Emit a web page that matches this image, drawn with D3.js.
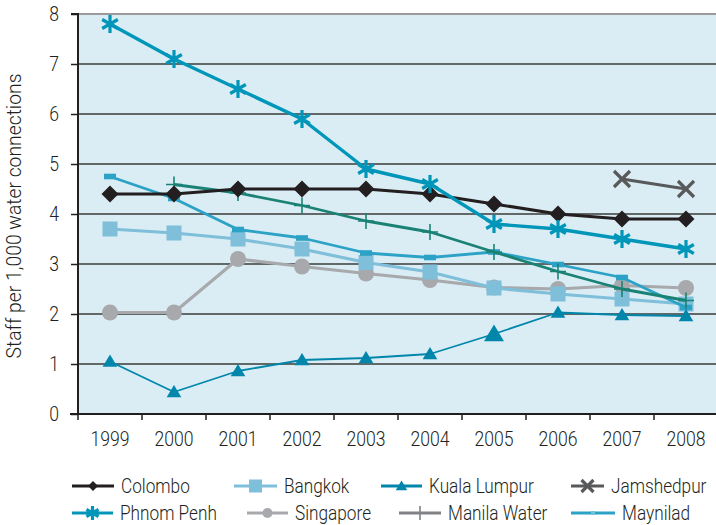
<!DOCTYPE html>
<html><head><meta charset="utf-8">
<script src="https://cdn.jsdelivr.net/npm/d3@7"></script>
<style>
body{margin:0;background:#fff;}
svg{display:block;}
text{font-family:Roboto,"Liberation Sans",sans-serif;font-weight:300;fill:#231f20;}
</style></head>
<body>
<svg id="c" width="716" height="525"></svg>
<script>
const years = ["1999","2000","2001","2002","2003","2004","2005","2006","2007","2008"];
const yTicks = [0,1,2,3,4,5,6,7,8];
const colombo     = [4.4,4.4,4.5,4.5,4.5,4.4,4.2,4.0,3.9,3.9];
const phnomPenh   = [7.8,7.1,6.5,5.9,4.9,4.6,3.8,3.7,3.5,3.3];
const bangkok     = [3.7,3.62,3.5,3.3,3.03,2.84,2.52,2.4,2.3,2.2];
const singapore   = [2.03,2.03,3.1,2.95,2.81,2.68,2.53,2.5,2.57,2.52];
const kualaLumpur = [1.05,0.44,0.86,1.08,1.12,1.2,1.6,2.03,1.98,1.96];
const jamshedpur  = [null,null,null,null,null,null,null,null,4.7,4.5];
const manilaWater = [null,4.59,4.42,4.17,3.86,3.64,3.24,2.85,2.5,2.27];
const maynilad    = [4.75,4.31,3.69,3.52,3.22,3.13,3.24,2.99,2.73,2.13];

const seriesNames = ["Colombo","Bangkok","Kuala Lumpur","Jamshedpur","Phnom Penh","Singapore","Manila Water","Maynilad"];

const svg = d3.select("#c");
const L=78, R=718, T=14, B=414;
const x = d3.scaleBand().domain(years).range([L,R]);
const y = d3.scaleLinear().domain([0,8]).range([B,T]);
const cx = d => x(d)+x.bandwidth()/2;

function condense(sel, sx){
  sel.each(function(){
    const t = d3.select(this);
    const tx = +t.attr("x")||0, ty = +t.attr("y")||0;
    const prev = t.attr("transform")||"";
    t.attr("x",0).attr("y",0).attr("transform",`${prev} translate(${tx},${ty}) scale(${sx},1)`);
  });
}

svg.append("rect").attr("x",L).attr("y",T).attr("width",R-L).attr("height",B-T).attr("fill","#daedf4");
svg.append("g").selectAll("line").data(yTicks.filter(v=>v>0)).join("line")
  .attr("x1",L).attr("x2",R).attr("y1",d=>y(d)).attr("y2",d=>y(d))
  .attr("stroke",d=>d===8?"#9a9a9a":"#3a3a3a").attr("stroke-width",d=>d===8?2:1.5);

const yAxis = d3.axisLeft(y).tickValues(yTicks).tickSize(7).tickPadding(12).tickFormat(d3.format("d"));
const gy = svg.append("g").attr("transform",`translate(${L},0)`).call(yAxis);
gy.select(".domain").attr("stroke","#231f20").attr("stroke-width",2).attr("d",`M-7,${T}H0V${B}`);
gy.selectAll(".tick line").attr("stroke","#231f20").attr("stroke-width",1.5);
gy.selectAll(".tick text").attr("font-size",20).attr("fill","#231f20").attr("font-family",null);
condense(gy.selectAll(".tick text"),0.88);

const xAxis = d3.axisBottom(x).tickSize(0).tickPadding(18);
const gx = svg.append("g").attr("transform",`translate(0,${B})`).call(xAxis);
gx.select(".domain").remove();
gx.selectAll(".tick text").attr("font-size",20).attr("fill","#231f20");
condense(gx.selectAll(".tick text"),0.88);
const bounds = years.map(d=>x(d)).concat([R]);
svg.append("g").selectAll("line").data(bounds).join("line")
  .attr("x1",d=>d).attr("x2",d=>d).attr("y1",B).attr("y2",B+6).attr("stroke","#231f20").attr("stroke-width",1.5);
svg.append("line").attr("x1",L-8).attr("x2",R).attr("y1",B).attr("y2",B).attr("stroke","#231f20").attr("stroke-width",2);

const yt = svg.append("text").attr("text-anchor","middle").attr("font-size",20).text("Staff per 1,000 water connections");
const ytw = yt.node().getComputedTextLength();
yt.attr("transform",`translate(21,${(T+B)/2+2}) rotate(-90) scale(${285/ytw},1)`);

function diamond(g,c,s){g.append("path").attr("d",`M0,${-s}L${s},0L0,${s}L${-s},0Z`).attr("fill",c);}
function square(g,c,s){g.append("rect").attr("x",-s).attr("y",-s).attr("width",2*s).attr("height",2*s).attr("fill",c);}
function triangle(g,c,s){g.append("path").attr("d",`M0,${-s}L${s*1.05},${s*0.75}L${-s*1.05},${s*0.75}Z`).attr("fill",c);}
function cross(g,c,s){g.append("path").attr("d",`M${-s},${-s}L${s},${s}M${s},${-s}L${-s},${s}`).attr("stroke",c).attr("stroke-width",3.2).attr("fill","none");}
function star(g,c,s){g.append("path").attr("d",`M0,${-s}V${s}M${-s*0.87},${-s*0.5}L${s*0.87},${s*0.5}M${s*0.87},${-s*0.5}L${-s*0.87},${s*0.5}`).attr("stroke",c).attr("stroke-width",3.2).attr("fill","none");}
function circle(g,c,s){g.append("circle").attr("r",s).attr("fill",c);}
function plus(g,c,s){g.append("path").attr("d",`M${-s},0H${s}M0,${-s}V${s}`).attr("stroke",c).attr("stroke-width",1.6).attr("fill","none");}
function dash(g,c,s){g.append("rect").attr("x",-s).attr("y",-2.8).attr("width",2*s).attr("height",5.6).attr("fill",c);}

const series = [
  {name:"Singapore",vals:singapore,color:"#a7a9ac",w:3.2,mk:circle,ms:8,lc:"#a7a9ac"},
  {name:"Bangkok",vals:bangkok,color:"#7fbfda",w:3.2,mk:square,ms:7.5,lc:"#7fbfda"},
  {name:"Maynilad",vals:maynilad,color:"#2ba2c6",w:2.8,mk:dash,ms:6,lc:"#2ba2c6"},
  {name:"Manila Water",vals:manilaWater,color:"#1a8275",w:2.8,mk:plus,ms:8,lc:"#808285"},
  {name:"Kuala Lumpur",vals:kualaLumpur,color:"#0086ab",w:1.8,mk:triangle,ms:7,lc:"#0086ab"},
  {name:"Colombo",vals:colombo,color:"#231f20",w:3.2,mk:diamond,ms:8.5,lc:"#231f20"},
  {name:"Phnom Penh",vals:phnomPenh,color:"#0096b9",w:3.4,mk:star,ms:9,lc:"#0096b9"},
  {name:"Jamshedpur",vals:jamshedpur,color:"#58595b",w:3.2,mk:cross,ms:8,lc:"#58595b"}
];

const line = d3.line().defined(d=>d.v!=null).x(d=>cx(d.yr)).y(d=>y(d.v));
series.forEach(s=>{
  const pts = years.map((yr,i)=>({yr,v:s.vals[i]}));
  svg.append("path").datum(pts).attr("d",line).attr("fill","none").attr("stroke",s.color).attr("stroke-width",s.w).attr("stroke-linejoin","round");
  pts.filter(p=>p.v!=null).forEach(p=>{
    const g = svg.append("g").attr("transform",`translate(${cx(p.yr)},${y(p.v)})`);
    let size = s.ms;
    if(s.name==="Kuala Lumpur" && p.yr==="2005") size = 9.5;
    s.mk(g,s.color,size);
  });
});

const legendPos = {
  "Colombo":[72,486],"Bangkok":[234,486],"Kuala Lumpur":[381,486],"Jamshedpur":[571,486],
  "Phnom Penh":[72,513],"Singapore":[247,513],"Manila Water":[399,513],"Maynilad":[571,513]
};
const legendLen = {"Colombo":42,"Bangkok":43,"Kuala Lumpur":41,"Jamshedpur":33,"Phnom Penh":41,"Singapore":41,"Manila Water":42,"Maynilad":44};
const legendMs = {"Colombo":5,"Bangkok":6.5,"Kuala Lumpur":5.5,"Jamshedpur":6,"Phnom Penh":7,"Singapore":5,"Manila Water":7,"Maynilad":3};
seriesNames.forEach(n=>{
  const s = series.find(d=>d.name===n);
  const [lx,ly] = legendPos[n];
  const len = legendLen[n];
  const g = svg.append("g");
  g.append("line").attr("x1",lx).attr("x2",lx+len).attr("y1",ly).attr("y2",ly).attr("stroke",s.lc).attr("stroke-width",3.2);
  const mg = g.append("g").attr("transform",`translate(${lx+len/2},${ly})`);
  if(n==="Maynilad"){ mg.append("rect").attr("x",-2).attr("y",-2).attr("width",4).attr("height",4).attr("fill","#6fc3dc"); }
  else s.mk(mg,s.lc,legendMs[n]);
  const t = g.append("text").attr("x",lx+len+7).attr("y",ly+7).attr("font-size",21).text(n);
  condense(t,0.82);
});
</script>
</body></html>
